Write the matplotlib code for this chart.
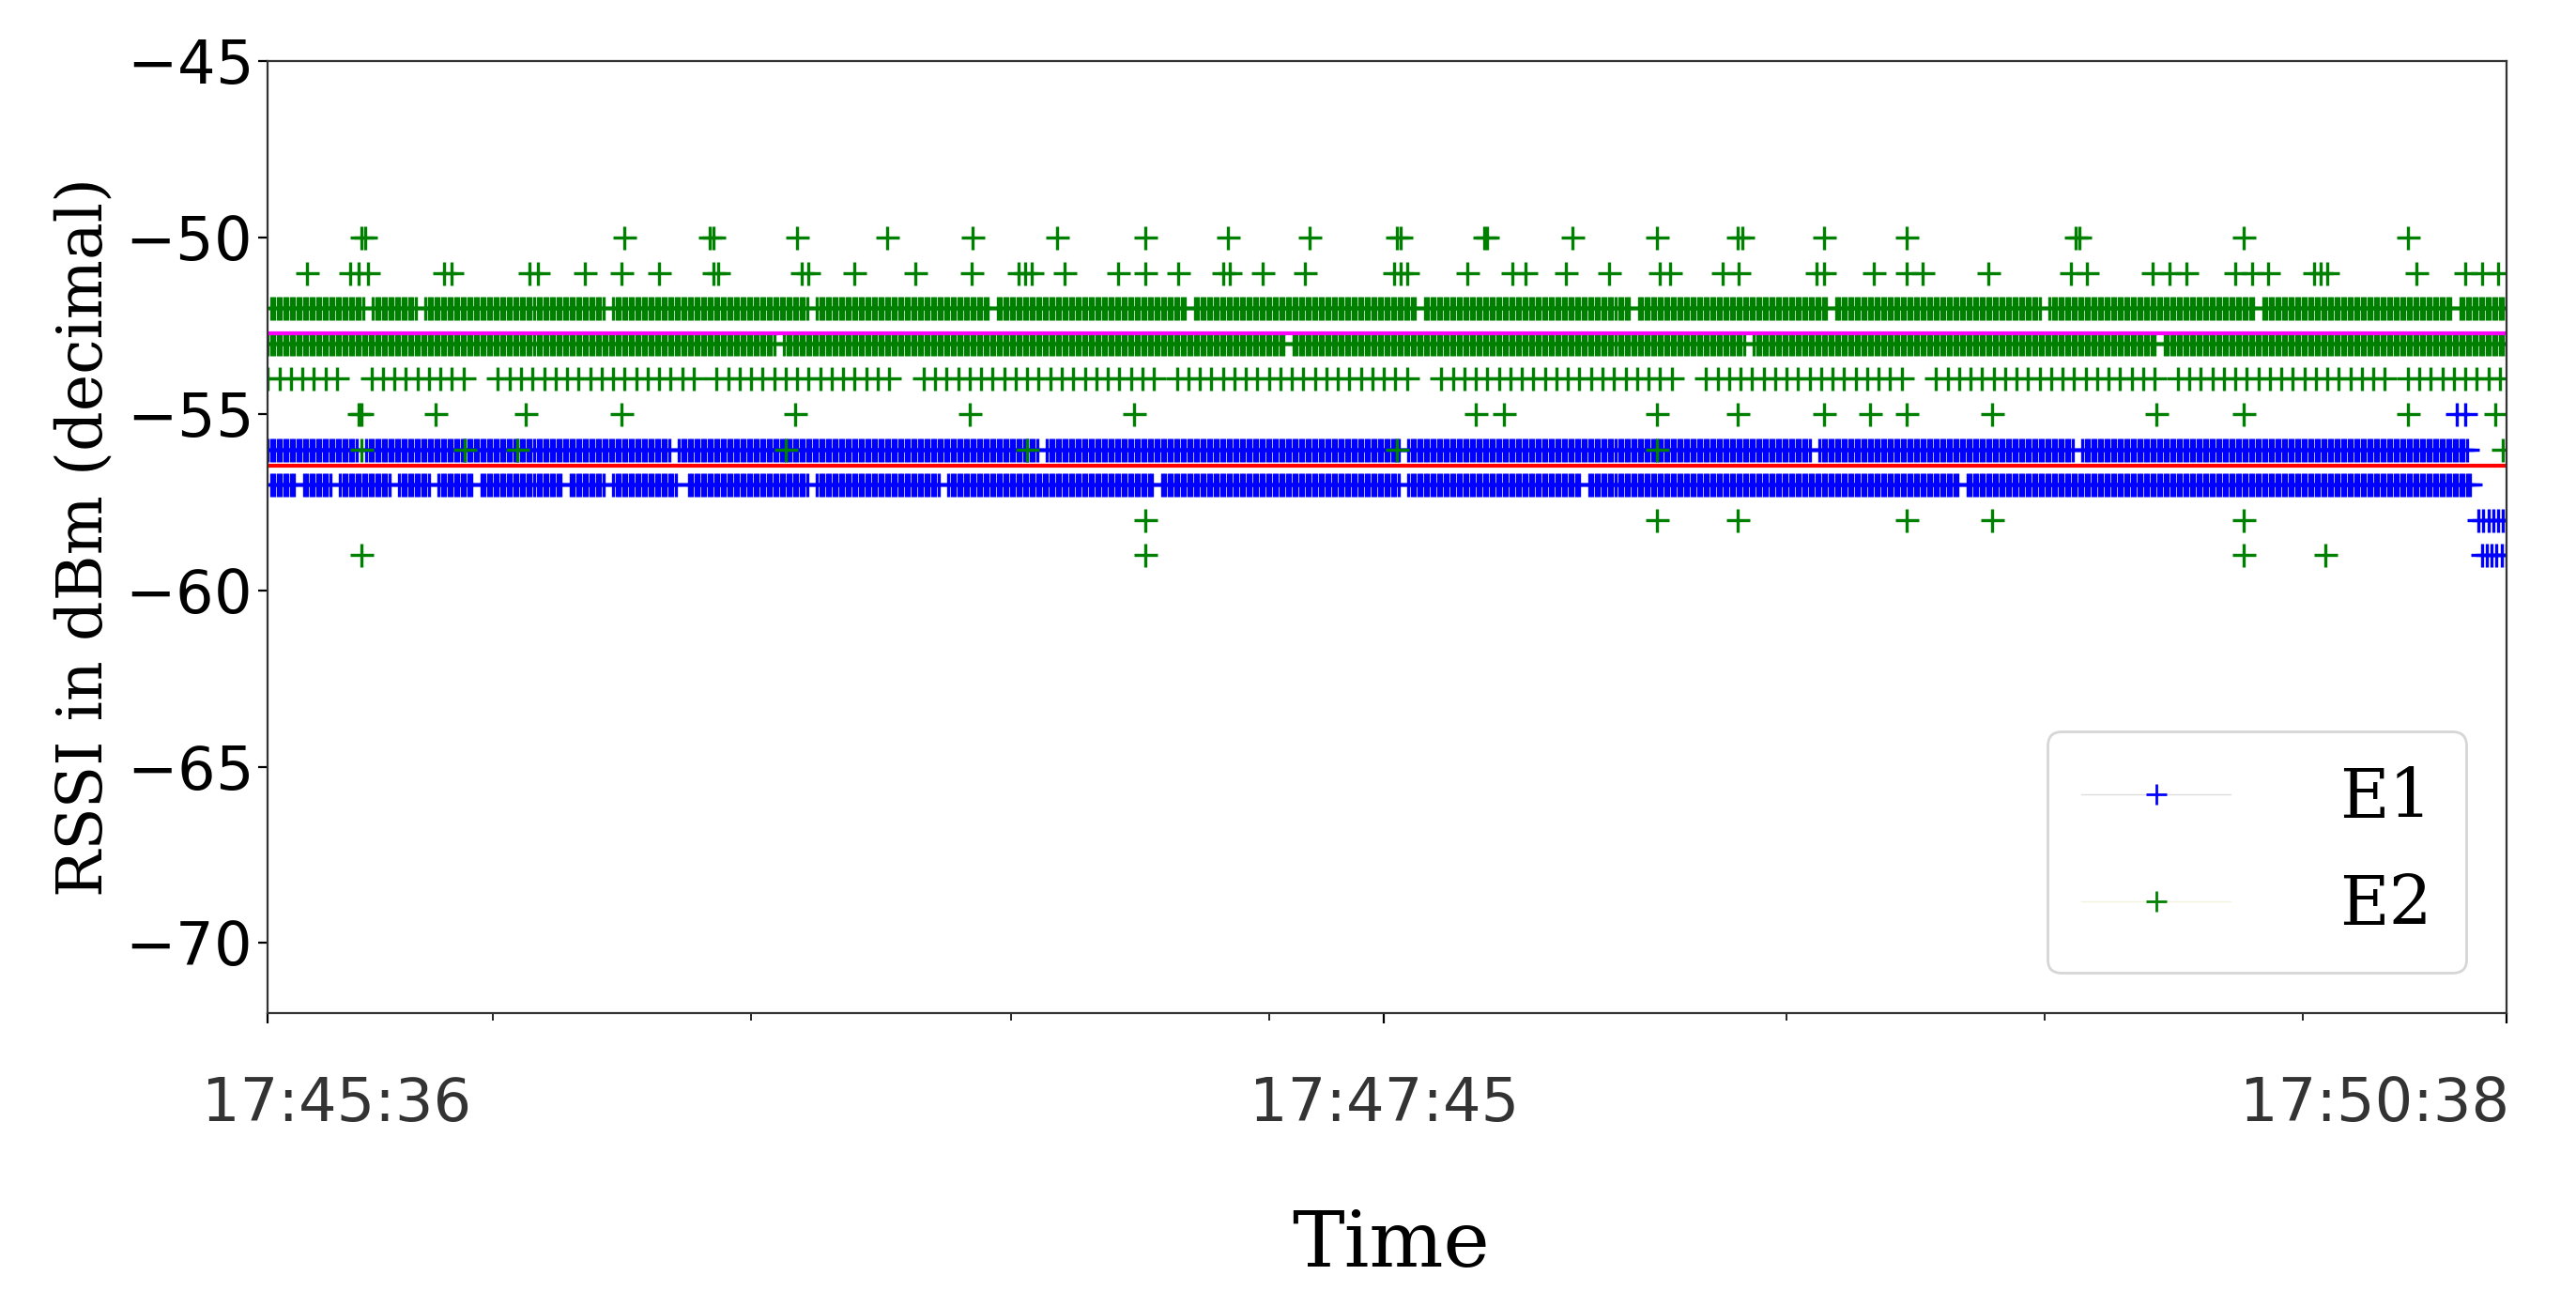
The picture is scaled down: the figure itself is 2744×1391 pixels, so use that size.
import matplotlib
matplotlib.use("Agg")
import matplotlib.pyplot as plt
import numpy as np
from matplotlib.lines import Line2D

# x is sample position (0..1362), tick labels are times
x_max = 1362
tick_pos = [0, 679, 1362]
tick_labels = ["17:45:36", "17:47:45", "17:50:38"]
label_pos = [42, 679, 1282]
minor_pos = [137, 294, 452, 609, 924, 1081, 1238]

# dense rows: (rssi, start, end, step, gaps)
E1_dense = [
    (-56, 0, 1338, 2, [(55, 58), (245, 248), (470, 472), (690, 692), (940, 942), (1100, 1102)]),
    (-57, 2, 1340, 2, [(18, 20), (40, 43), (75, 78), (100, 103), (125, 128), (180, 182), (205, 208),
                       (250, 254), (330, 332), (410, 412), (540, 542), (690, 692), (800, 802), (1030, 1032)]),
]
E1_sparse = {
    -55: [1332, 1337],
    -58: [1345, 1348, 1351, 1354, 1357, 1360],
    -59: [1347, 1350, 1353, 1356, 1359, 1362],
}
E2_dense = [
    (-52, 2, 1362, 2, [(60, 63), (92, 94), (205, 208), (330, 333), (440, 443), (560, 563), (700, 703),
                       (830, 833), (950, 953), (1080, 1083), (1210, 1213), (1330, 1333)]),
    (-53, 0, 1362, 2, [(310, 312), (620, 622), (900, 902), (1150, 1152)]),
    (-54, 0, 1362, 7, [(44, 56), (120, 135), (260, 270), (380, 392), (540, 552), (700, 712),
                       (860, 870), (1000, 1010), (1150, 1160), (1290, 1300)]),
]
E2_sparse = {
    -50: [57, 59, 217, 269, 271, 322, 377, 429, 480, 534, 584, 634, 687, 689, 740, 742, 794, 845, 894,
          897, 947, 997, 1100, 1102, 1202, 1302],
    -51: [24, 50, 55, 61, 107, 112, 159, 164, 193, 215, 238, 271, 274, 325, 329, 357, 394, 428, 457, 461,
          465, 485, 517, 534, 554, 581, 585, 605, 631, 685, 689, 693, 730, 757, 765, 790, 816, 847, 853,
          885, 895, 942, 947, 977, 997, 1007, 1047, 1097, 1107, 1147, 1157, 1167, 1197, 1207, 1217, 1245,
          1249, 1253, 1307, 1337, 1347, 1357],
    -55: [55, 57, 102, 157, 215, 321, 427, 527, 735, 752, 845, 894, 947, 975, 997, 1049, 1149, 1202, 1302, 1355],
    -56: [57, 120, 152, 315, 462, 687, 845, 1360],
    -58: [534, 845, 894, 997, 1049, 1202],
    -59: [57, 534, 1202, 1252],
}
E1_mean = -56.47
E2_mean = -52.72


def build(dense, sparse):
    xs, ys = [], []
    for level, a, b, step, gaps in dense:
        for x in np.arange(a, b + 1, step):
            if not any(g0 <= x <= g1 for g0, g1 in gaps):
                xs.append(x)
                ys.append(level)
    for level, pts in sparse.items():
        xs += pts
        ys += [level] * len(pts)
    return np.array(xs), np.array(ys)


fig = plt.figure(figsize=(13.72, 6.955), dpi=200)
ax = fig.add_axes([0.104, 0.224, 0.869, 0.729])

x1, y1 = build(E1_dense, E1_sparse)
x2, y2 = build(E2_dense, E2_sparse)
ax.plot(x1, y1, ls="none", marker="+", ms=9, mew=1.2, color="blue")
ax.plot(x2, y2, ls="none", marker="+", ms=9, mew=1.2, color="green")
ax.axhline(E2_mean, color="magenta", lw=1.5)
ax.axhline(E1_mean, color="red", lw=1.5)

ax.set_xlim(0, x_max)
ax.set_ylim(-72, -45)
ax.set_yticks([-45, -50, -55, -60, -65, -70])
ax.set_yticklabels(["$-45$", "$-50$", "$-55$", "$-60$", "$-65$", "$-70$"], fontsize=23, family="DejaVu Serif")
ax.set_xticks(tick_pos)
ax.set_xticklabels([])
for p, t in zip(label_pos, tick_labels):
    ax.text(p, -0.065, t, transform=ax.get_xaxis_transform(), ha="center", va="top",
            fontsize=23, family="DejaVu Sans", color="#333333")
ax.set_xticks(minor_pos, minor=True)
ax.tick_params(axis="x", which="major", length=4)
ax.tick_params(axis="x", which="minor", length=3)
ax.set_ylabel("RSSI in dBm (decimal)", fontsize=24, family="DejaVu Serif")
fig.text(0.54, 0.03, "Time", fontsize=30, family="DejaVu Serif", ha="center")
for s in ax.spines.values():
    s.set_color("#333333")

handles = [Line2D([0], [0], color="#dddddd", lw=0.5, marker="+", ms=8, mec="blue", label="E1"),
           Line2D([0], [0], color="#f4f4dd", lw=0.5, marker="+", ms=8, mec="green", label="E2")]
ax.legend(handles=handles, loc="lower right", handlelength=2.2, handletextpad=1.6,
          borderpad=0.5, labelspacing=0.6, prop={"family": "DejaVu Serif", "size": 26},
          fancybox=True, edgecolor="#cccccc", borderaxespad=0.6)

fig.savefig("out.png", dpi=200)
